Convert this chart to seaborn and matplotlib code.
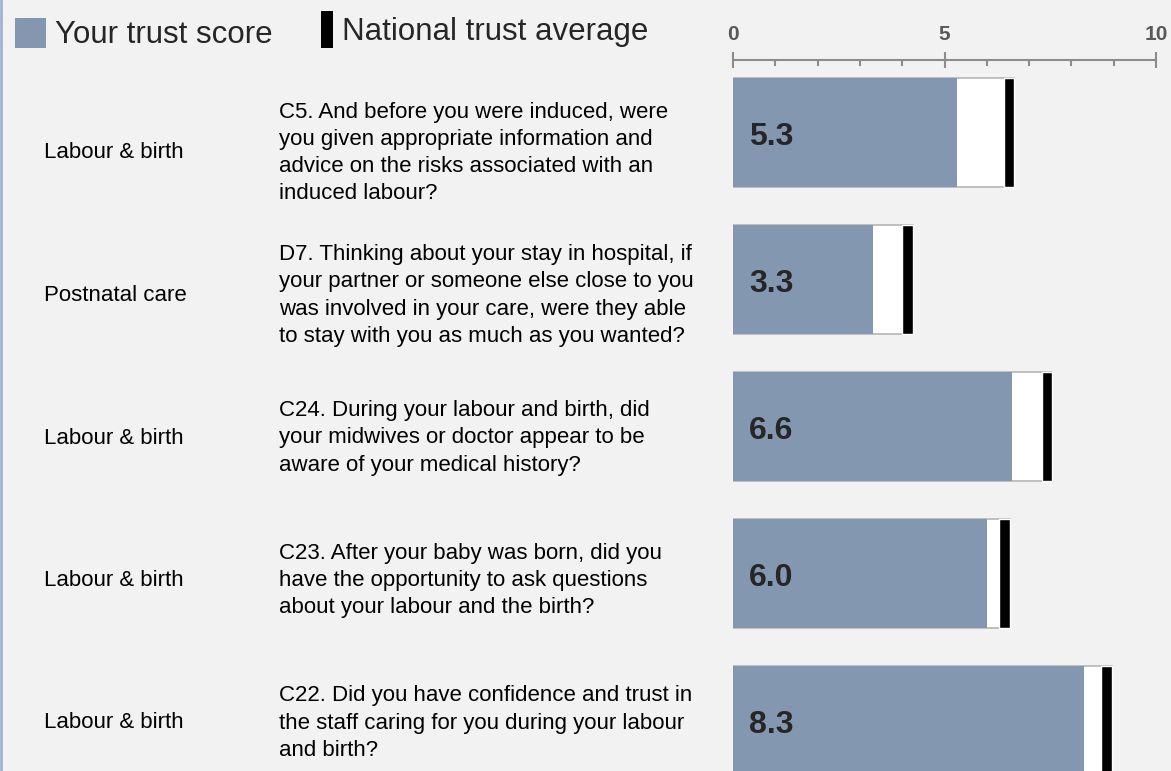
import numpy as np
import pandas as pd
import matplotlib
matplotlib.use('Agg')
import matplotlib.pyplot as plt
import seaborn as sns
from matplotlib.patches import Rectangle
from matplotlib.lines import Line2D

# Data
sections = ['Labour & birth', 'Postnatal care', 'Labour & birth', 'Labour & birth', 'Labour & birth']
questions = [
    'C5. And before you were induced, were\nyou given appropriate information and\nadvice on the risks associated with an\ninduced labour?',
    'D7. Thinking about your stay in hospital, if\nyour partner or someone else close to you\nwas involved in your care, were they able\nto stay with you as much as you wanted?',
    'C24. During your labour and birth, did\nyour midwives or doctor appear to be\naware of your medical history?',
    'C23. After your baby was born, did you\nhave the opportunity to ask questions\nabout your labour and the birth?',
    'C22. Did you have confidence and trust in\nthe staff caring for you during your labour\nand birth?',
]
codes = ['C5', 'D7', 'C24', 'C23', 'C22']
trust_score = [5.3, 3.3, 6.6, 6.0, 8.3]
national_avg = [6.65, 4.25, 7.55, 6.55, 8.95]

df = pd.DataFrame({'code': codes, 'score': trust_score, 'national': national_avg})

BG = '#f2f2f2'
BAR = '#8497b0'
W, H = 1171, 771

sns.set_theme(style='white')
plt.rcParams['font.family'] = ['Liberation Sans', 'DejaVu Sans']

fig = plt.figure(figsize=(W / 100, H / 100), dpi=100)
fig.patch.set_facecolor(BG)
ax = fig.add_axes([733 / W, 0, (1156 - 733) / W, 1 - 60 / H])
ax.set_facecolor(BG)

bar_h = 0.74
# national average box, then score bar, then black marker
sns.barplot(data=df, x='national', y='code', orient='h', color='white',
            edgecolor='#b5b5b5', linewidth=1.2, width=bar_h, saturation=1, ax=ax)
sns.barplot(data=df, x='score', y='code', orient='h', color=BAR,
            edgecolor='none', width=bar_h, saturation=1, ax=ax)
marker_w = 0.25
pos = np.arange(len(codes))
ax.barh(pos, marker_w, left=df['national'] - marker_w, height=bar_h, color='black')

for i, s in enumerate(trust_score):
    ax.text(0.38, i + 0.03, f'{s:.1f}', ha='left', va='center', fontsize=23,
            fontweight='bold', color='#262626')

ax.set_xlim(0, 10)
ax.set_ylim(4.344, -0.493)
ax.set_xlabel('')
ax.set_ylabel('')
ax.set_yticks([])
ax.xaxis.tick_top()
ax.set_xticks([0, 5, 10])
ax.set_xticklabels(['0', '5', '10'], fontsize=15, fontweight='bold', color='#595959')
ax.set_xticks([1, 2, 3, 4, 6, 7, 8, 9], minor=True)
ax.tick_params(axis='x', which='major', direction='inout', length=11, width=1.5,
               color='#8c8c8c', pad=6)
ax.tick_params(axis='x', which='minor', direction='in', length=4, width=1.5,
               color='#8c8c8c', top=True, bottom=False)
for side in ['left', 'right', 'bottom']:
    ax.spines[side].set_visible(False)
ax.spines['top'].set_color('#8c8c8c')
ax.spines['top'].set_linewidth(1.5)

# row texts
for i, (sec, q) in enumerate(zip(sections, questions)):
    yc = 1 - (153 + 142.5 * i) / H
    fig.text(44 / W, yc, sec, ha='left', va='center', fontsize=16, color='black')
    fig.text(279 / W, yc, q, ha='left', va='center', fontsize=16, color='black',
             linespacing=1.38)

# legend
fig.add_artist(Rectangle((15 / W, 1 - 48 / H), 31 / W, 30 / H, transform=fig.transFigure,
                         facecolor=BAR, edgecolor='none'))
fig.text(55 / W, 1 - 35 / H, 'Your trust score', ha='left', va='center', fontsize=22.5)
fig.add_artist(Rectangle((321 / W, 1 - 48 / H), 12 / W, 37 / H, transform=fig.transFigure,
                         facecolor='black', edgecolor='none'))
fig.text(342 / W, 1 - 32 / H, 'National trust average', ha='left', va='center', fontsize=22.5)

# left border
fig.add_artist(Line2D([0.0008, 0.0008], [0, 1], transform=fig.transFigure,
                      color='#9fb3d6', linewidth=2))

fig.savefig('out.png', dpi=100, facecolor=BG)
